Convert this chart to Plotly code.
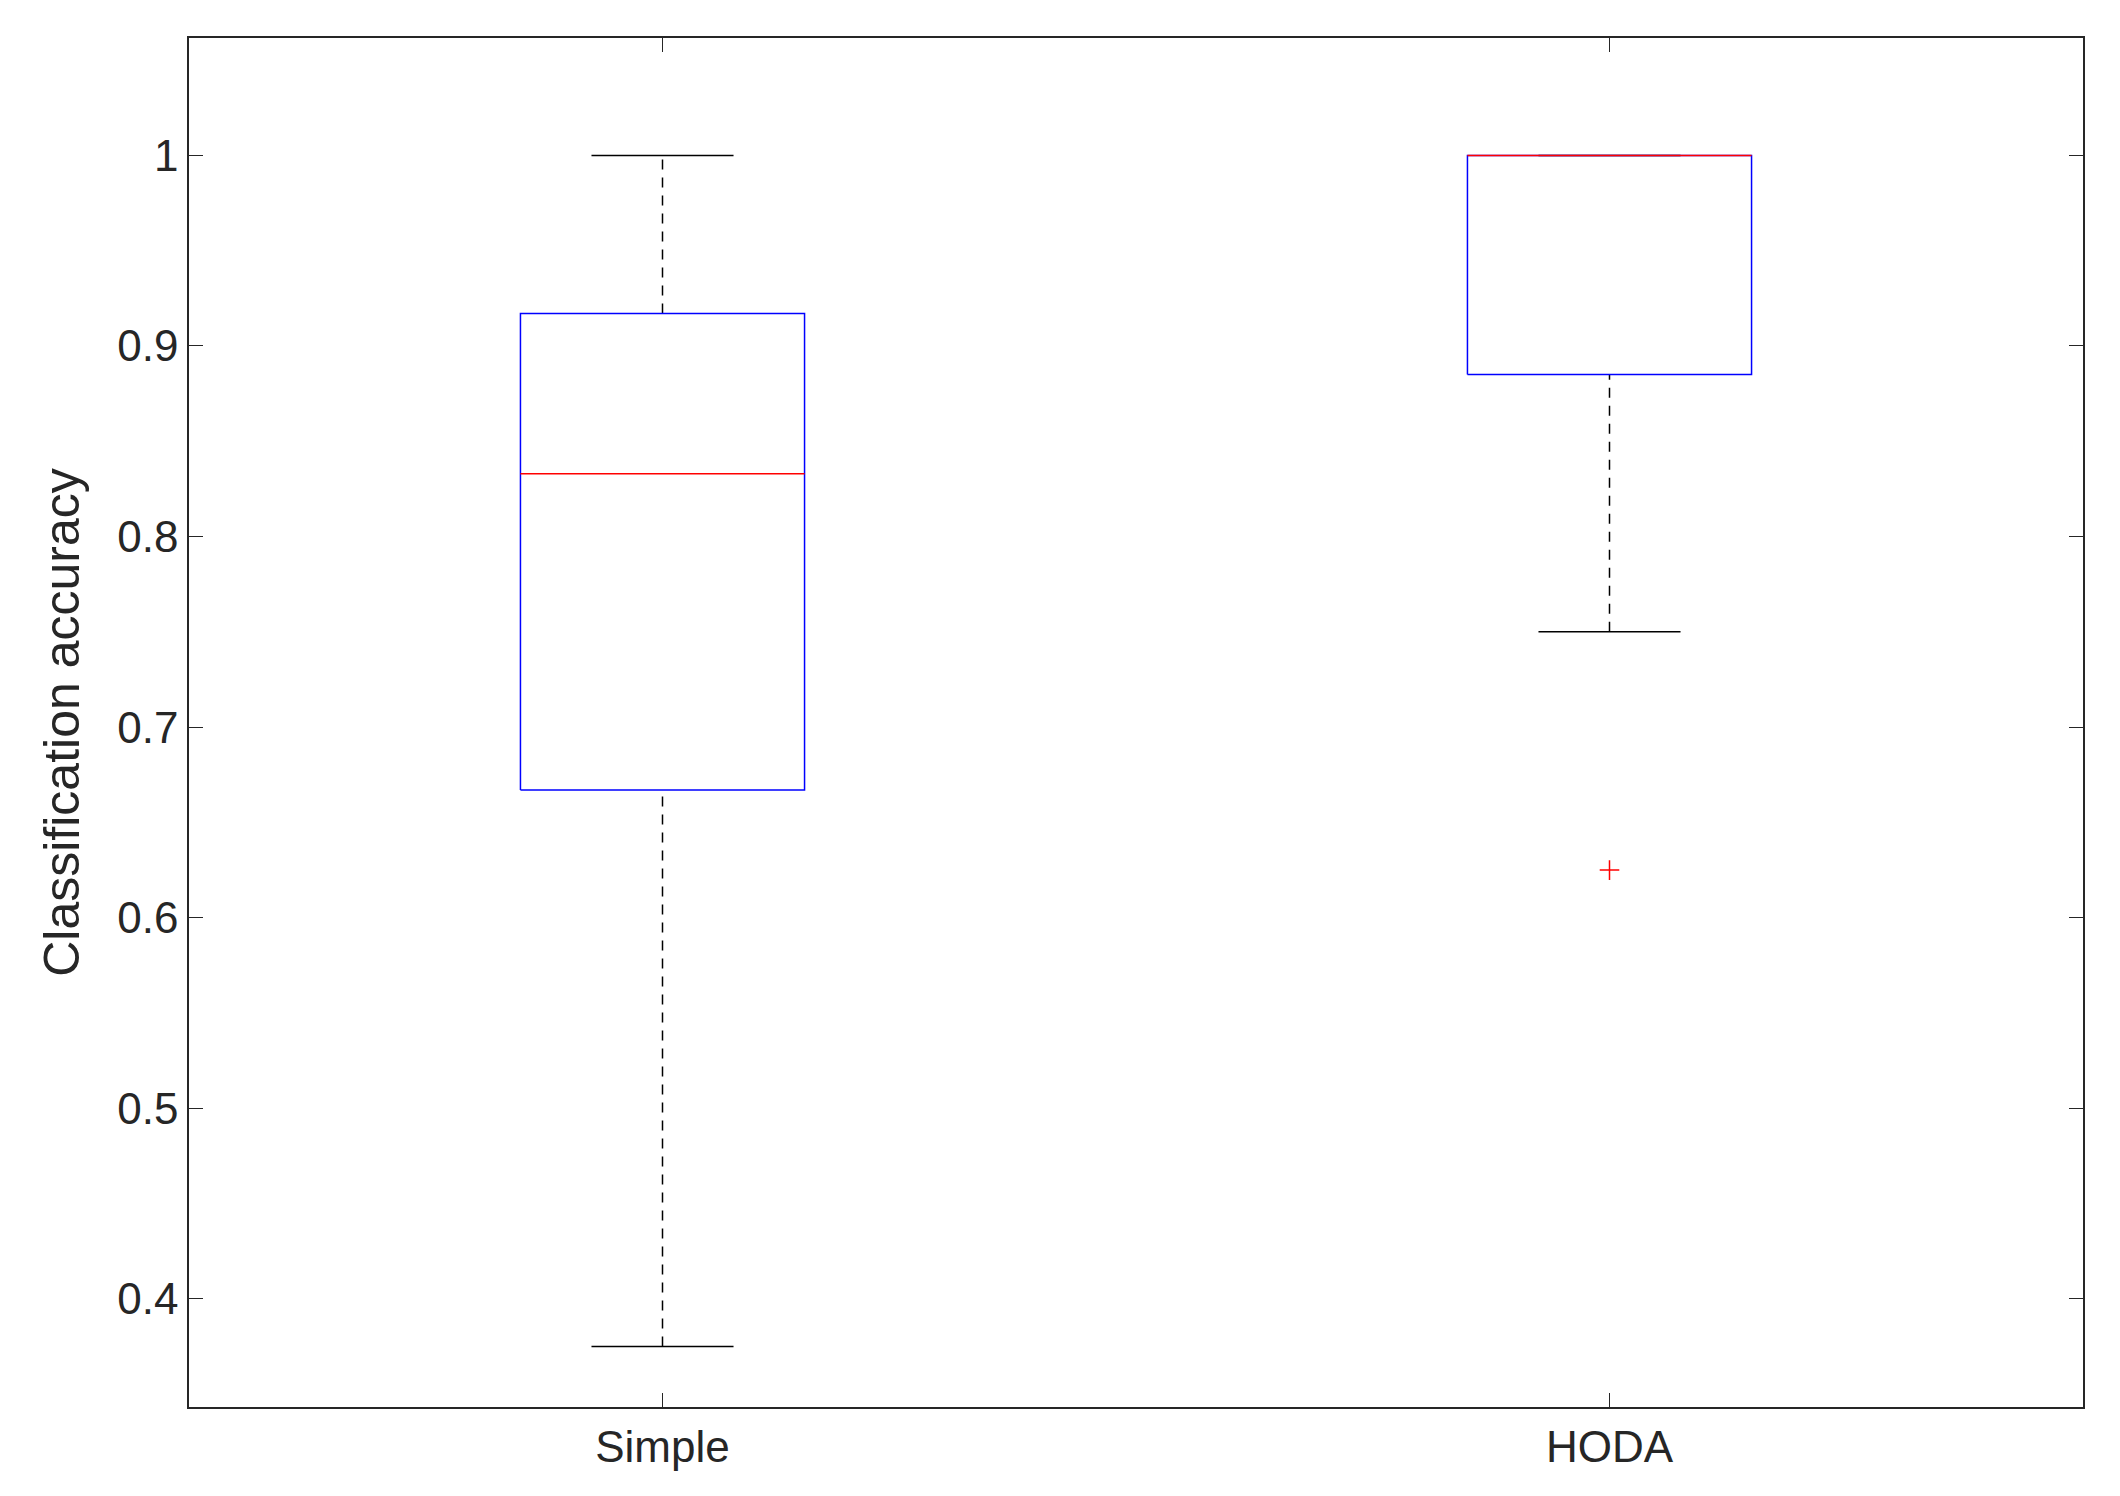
import plotly.graph_objects as go

categories = ["Simple", "HODA"]
positions = [1, 2]
lower_whisker = [0.375, 0.75]
q1 = [0.667, 0.885]
median = [0.833, 1.0]
q3 = [0.917, 1.0]
upper_whisker = [1.0, 1.0]
outlier_x = [2]
outlier_y = [0.625]

BW = 0.15   # box half width
CW = 0.075  # cap half width

fig = go.Figure()
wx, wy, cx, cy, bx, by, mx, my = [], [], [], [], [], [], [], []
for p, lo, a, m, b, hi in zip(positions, lower_whisker, q1, median, q3, upper_whisker):
    wx += [p, p, None, p, p, None]
    wy += [lo, a, None, b, hi, None]
    cx += [p - CW, p + CW, None, p - CW, p + CW, None]
    cy += [lo, lo, None, hi, hi, None]
    bx += [p - BW, p + BW, p + BW, p - BW, p - BW, None]
    by += [a, a, b, b, a, None]
    mx += [p - BW, p + BW, None]
    my += [m, m, None]

fig.add_trace(go.Scatter(x=wx, y=wy, mode="lines", line=dict(color="black", width=1.5, dash="10px,8px"), hoverinfo="skip"))
fig.add_trace(go.Scatter(x=cx, y=cy, mode="lines", line=dict(color="black", width=1.5), hoverinfo="skip"))
fig.add_trace(go.Scatter(x=bx, y=by, mode="lines", line=dict(color="blue", width=1.5), hoverinfo="skip"))
fig.add_trace(go.Scatter(x=mx, y=my, mode="lines", line=dict(color="red", width=1.5), hoverinfo="skip"))
fig.add_trace(go.Scatter(x=outlier_x, y=outlier_y, mode="markers",
                         marker=dict(symbol="cross-thin", size=14, line=dict(color="red", width=1.5)), hoverinfo="skip"))

fig.update_layout(
    width=2120, height=1496, showlegend=False,
    plot_bgcolor="white", paper_bgcolor="white",
    margin=dict(l=181, r=45, t=30, b=97),
    font=dict(family="Liberation Sans, Arial", size=44, color="#262626"),
)
fig.update_xaxes(range=[0.5, 2.5], tickvals=positions, ticktext=categories,
                 showgrid=False, zeroline=False, showline=True, linecolor="#262626", linewidth=1.5,
                 mirror="allticks", ticks="inside", ticklen=14, tickcolor="#262626")
fig.update_yaxes(range=[0.3433, 1.0616], tickvals=[0.4, 0.5, 0.6, 0.7, 0.8, 0.9, 1],
                 ticktext=["0.4", "0.5", "0.6", "0.7", "0.8", "0.9", "1"],
                 title=dict(text="Classification accuracy", font=dict(size=50), standoff=22),
                 showgrid=False, zeroline=False, showline=True, linecolor="#262626", linewidth=1.5,
                 mirror="allticks", ticks="inside", ticklen=14, tickcolor="#262626")
fig.write_html("out.html")
